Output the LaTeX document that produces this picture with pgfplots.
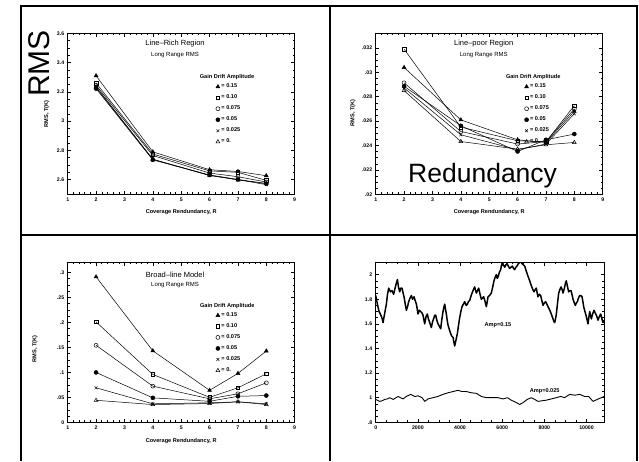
\documentclass[border=0pt]{standalone}
\usepackage{fontspec}
\setmainfont{Liberation Sans}
\usepackage{pgfplots}
\pgfplotsset{compat=1.18}

\newcommand{\tickfont}{\fontsize{5.2}{5.2}\selectfont\bfseries}
\newcommand{\labfont}{\fontsize{5.6}{6}\selectfont\bfseries}

\pgfplotsset{
  panel/.style={
    scale only axis,
    axis line style={line width=0.8pt},
    tick align=inside,
    major tick length=3.5pt,
    minor tick length=2pt,
    every tick/.style={black, line width=0.5pt},
    scaled ticks=false,
    /pgf/number format/assume math mode=true,
    /pgf/number format/1000 sep={},
    tick label style={font=\tickfont},
  },
  rpanel/.style={
    panel,
    width=227pt,
    xmin=1, xmax=9,
    xtick={1,...,9},
    minor x tick num=4,
    minor y tick num=3,
    xlabel={Coverage Rendundancy, R},
    ylabel={RMS, T(K)},
    every axis x label/.style={at={(rel axis cs:0.5,-0.108)}, anchor=center, font=\labfont},
    legend image code/.code={\draw[mark repeat=2,mark phase=2,#1,only marks] plot coordinates {(0pt,0pt) (2pt,0pt) (4pt,0pt)};},
    legend style={draw=none, fill=none, anchor=north west, font=\labfont,
      row sep=4.4pt, inner sep=0pt, nodes={inner sep=0.6pt}},
    legend cell align=left,
  },
  g15/.style={black, line width=0.5pt, mark=triangle*, mark size=2.2pt, mark options={solid, fill=black}},
  g10/.style={black, line width=0.5pt, mark=square, mark size=1.8pt, mark options={solid, fill=white}},
  g075/.style={black, line width=0.5pt, mark=o, mark size=2pt, mark options={solid, fill=white}},
  g05/.style={black, line width=0.5pt, mark=*, mark size=2pt, mark options={solid, fill=black}},
  g025/.style={black, line width=0.5pt, mark=x, mark size=2pt, mark options={solid}},
  g0/.style={black, line width=0.5pt, mark=triangle, mark size=2.2pt, mark options={solid, fill=white}},
}

\begin{document}
\begin{tikzpicture}
\path[use as bounding box] (0pt,0pt) rectangle (639pt,461pt);

% panel frame
\draw[line width=1.2pt] (21pt,0pt) -- (21pt,455pt) -- (637pt,455pt) -- (637pt,0pt);
\draw[line width=1.2pt] (330pt,0pt) -- (330pt,455pt);
\draw[line width=1.2pt] (21pt,226pt) -- (637pt,226pt);

% ---------------- Line-rich region ----------------
\begin{axis}[rpanel, at={(67.7pt,266.7pt)}, anchor=south west, height=161pt,
  ymin=2.5, ymax=3.6,
  ytick={2.6,2.8,3,3.2,3.4,3.6}, yticklabels={2.6,2.8,3,3.2,3.4,3.6},
  every axis y label/.style={at={(rel axis cs:-0.0925,0.50)}, rotate=90, anchor=center, font=\labfont},
  legend style={at={(rel axis cs:0.652,0.69)}},
]
\addplot[g15] coordinates {(2,3.31) (4,2.79) (6,2.668) (7,2.656) (8,2.627)};
\addplot[g10] coordinates {(2,3.26) (4,2.775) (6,2.660) (7,2.650) (8,2.595)};
\addplot[g075] coordinates {(2,3.245) (4,2.765) (6,2.645) (7,2.620) (8,2.584)};
\addplot[g05] coordinates {(2,3.222) (4,2.735) (6,2.632) (7,2.602) (8,2.572)};
\addplot[g025] coordinates {(2,3.230) (4,2.738) (6,2.628) (7,2.600) (8,2.566)};
\addplot[g0] coordinates {(2,3.235) (4,2.740) (6,2.630) (7,2.598) (8,2.575)};
\legend{\,= 0.15, \,= 0.10, \,= 0.075, \,= 0.05, \,= 0.025, \,= 0.}
\node[font=\fontsize{7.5}{8}\selectfont] at (rel axis cs:0.473,0.938) {Line--Rich Region};
\node[font=\fontsize{6}{7}\selectfont] at (rel axis cs:0.473,0.865) {Long Range RMS};
\node[font=\labfont] at (rel axis cs:0.702,0.730) {Gain Drift Amplitude};
\end{axis}

% ---------------- Line-poor region ----------------
\begin{axis}[rpanel, at={(375.7pt,266.7pt)}, anchor=south west, height=161pt,
  ymin=0.02, ymax=0.0332,
  ytick={0.02,0.022,0.024,0.026,0.028,0.03,0.032},
  yticklabels={.02,.022,.024,.026,.028,.03,.032},
  every axis y label/.style={at={(rel axis cs:-0.1,0.505)}, rotate=90, anchor=center, font=\labfont},
  legend style={at={(rel axis cs:0.655,0.69)}},
]
\addplot[g15] coordinates {(2,0.0304) (4,0.0261) (6,0.02447) (7,0.02425) (8,0.0268)};
\addplot[g10] coordinates {(2,0.0319) (4,0.02551) (6,0.02439) (7,0.0243) (8,0.02727)};
\addplot[g075] coordinates {(2,0.02914) (4,0.02515) (6,0.02412) (7,0.02433) (8,0.0270)};
\addplot[g05] coordinates {(2,0.02886) (4,0.02562) (6,0.02351) (7,0.02447) (8,0.02494)};
\addplot[g025] coordinates {(2,0.02872) (4,0.02488) (6,0.02365) (7,0.02412) (8,0.0266)};
\addplot[g0] coordinates {(2,0.0285) (4,0.02433) (6,0.0237) (7,0.02406) (8,0.02425)};
\legend{\,= 0.15, \,= 0.10, \,= 0.075, \,= 0.05, \,= 0.025, \,= 0.}
\node[font=\fontsize{7.5}{8}\selectfont] at (rel axis cs:0.476,0.938) {Line--poor Region};
\node[font=\fontsize{6}{7}\selectfont] at (rel axis cs:0.476,0.865) {Long Range RMS};
\node[font=\labfont] at (rel axis cs:0.694,0.726) {Gain Drift Amplitude};
\end{axis}

% ---------------- Broad-line model ----------------
\begin{axis}[rpanel, at={(67.7pt,38.7pt)}, anchor=south west, height=160pt,
  ymin=0, ymax=0.32,
  ytick={0,0.05,0.1,0.15,0.2,0.25,0.3},
  yticklabels={0,.05,.1,.15,.2,.25,.3},
  every axis x label/.style={at={(rel axis cs:0.5,-0.117)}, anchor=center, font=\labfont},
  every axis y label/.style={at={(rel axis cs:-0.144,0.46)}, rotate=90, anchor=center, font=\labfont},
  legend style={at={(rel axis cs:0.652,0.69)}},
]
\addplot[g15] coordinates {(2,0.291) (4,0.143) (6,0.064) (7,0.0977) (8,0.1426)};
\addplot[g10] coordinates {(2,0.2008) (4,0.0957) (6,0.050) (7,0.069) (8,0.097)};
\addplot[g075] coordinates {(2,0.154) (4,0.0723) (6,0.047) (7,0.057) (8,0.079)};
\addplot[g05] coordinates {(2,0.0997) (4,0.0489) (6,0.042) (7,0.052) (8,0.0535)};
\addplot[g025] coordinates {(2,0.069) (4,0.037) (6,0.039) (7,0.041) (8,0.037)};
\addplot[g0] coordinates {(2,0.044) (4,0.0355) (6,0.0375) (7,0.041) (8,0.0355)};
\legend{\,= 0.15, \,= 0.10, \,= 0.075, \,= 0.05, \,= 0.025, \,= 0.}
\node[font=\fontsize{7.5}{8}\selectfont] at (rel axis cs:0.473,0.922) {Broad--line Model};
\node[font=\fontsize{6}{7}\selectfont] at (rel axis cs:0.473,0.86) {Long Range RMS};
\node[font=\labfont] at (rel axis cs:0.703,0.729) {Gain Drift Amplitude};
\end{axis}

% ---------------- gain drift time series ----------------
\begin{axis}[panel, at={(375.7pt,38.7pt)}, anchor=south west, width=228.3pt, height=160pt,
  xmin=0, xmax=10830, ymin=0.8, ymax=2.1,
  xtick={0,2000,4000,6000,8000,10000},
  xticklabels={0,2000,4000,6000,8000,10000},
  minor x tick num=3,
  ytick={0.8,1,1.2,1.4,1.6,1.8,2},
  yticklabels={.8,1,1.2,1.4,1.6,1.8,2},
  minor y tick num=3,
]
\addplot[black, line width=1.5pt, line join=round] coordinates {
(0,1.83) (80,1.76) (158,1.70) (220,1.68) (269,1.66) (310,1.64) (348,1.61) (420,1.68)
(506,1.76) (560,1.84) (617,1.89) (700,1.86) (775,1.87) (850,1.84) (933,1.90) (980,1.93)
(1028,1.96) (1080,1.90) (1138,1.86) (1190,1.89) (1249,1.89) (1300,1.85) (1344,1.82)
(1400,1.76) (1455,1.71) (1510,1.74) (1565,1.78) (1630,1.81) (1692,1.83) (1750,1.80)
(1818,1.82) (1870,1.79) (1929,1.76) (1970,1.72) (2008,1.68) (2070,1.71) (2134,1.70)
(2190,1.69) (2245,1.67) (2290,1.63) (2324,1.60) (2390,1.66) (2451,1.68) (2500,1.64)
(2561,1.61) (2600,1.59) (2640,1.57) (2700,1.62) (2767,1.65) (2800,1.67) (2846,1.67)
(2900,1.63) (2956,1.60) (3020,1.58) (3083,1.56) (3140,1.64) (3194,1.70) (3240,1.74)
(3273,1.76) (3310,1.72) (3352,1.68) (3390,1.63) (3431,1.59) (3500,1.55) (3557,1.52)
(3610,1.50) (3668,1.49) (3710,1.45) (3747,1.42) (3810,1.47) (3873,1.52) (3930,1.59)
(3984,1.65) (4040,1.70) (4095,1.74) (4160,1.76) (4221,1.78) (4290,1.75) (4348,1.76)
(4400,1.78) (4458,1.79) (4510,1.82) (4569,1.85) (4640,1.88) (4696,1.90) (4740,1.87)
(4775,1.85) (4830,1.87) (4885,1.89) (4950,1.84) (5012,1.80) (5070,1.81) (5122,1.82)
(5190,1.78) (5249,1.74) (5290,1.78) (5328,1.82) (5400,1.83) (5486,1.85) (5550,1.90)
(5613,1.95) (5670,1.98) (5723,2.00) (5760,1.97) (5802,1.98) (5870,2.02) (5929,2.04)
(5970,2.08) (6008,2.10) (6060,2.08) (6118,2.06) (6180,2.08) (6229,2.09) (6290,2.07)
(6356,2.05) (6420,2.06) (6482,2.07) (6540,2.05) (6593,2.04) (6650,2.06) (6703,2.07)
(6770,2.09) (6830,2.10) (6890,2.10) (6941,2.09) (7000,2.08) (7067,2.07) (7120,2.04)
(7178,2.01) (7240,1.98) (7304,1.95) (7340,1.93) (7383,1.91) (7450,1.88) (7510,1.86)
(7570,1.88) (7620,1.89) (7660,1.85) (7699,1.82) (7760,1.84) (7826,1.83) (7880,1.79)
(7937,1.75) (8000,1.77) (8063,1.78) (8120,1.76) (8174,1.74) (8230,1.72) (8284,1.70)
(8350,1.67) (8411,1.64) (8450,1.62) (8490,1.61) (8530,1.64) (8569,1.68) (8620,1.76)
(8680,1.85) (8740,1.88) (8790,1.90) (8840,1.88) (8885,1.85) (8920,1.87) (8964,1.90)
(9000,1.93) (9043,1.95) (9100,1.90) (9155,1.86) (9210,1.87) (9266,1.87) (9310,1.84)
(9360,1.80) (9420,1.77) (9470,1.75) (9520,1.77) (9565,1.78) (9620,1.81) (9676,1.83)
(9730,1.83) (9786,1.82) (9830,1.78) (9865,1.74) (9910,1.71) (9960,1.68) (10020,1.64)
(10071,1.60) (10110,1.65) (10150,1.70) (10190,1.67) (10229,1.64) (10290,1.68)
(10355,1.71) (10410,1.69) (10466,1.67) (10510,1.65) (10545,1.63) (10610,1.66)
(10672,1.68) (10730,1.64) (10782,1.61) (10830,1.63)
};
\addplot[black, line width=0.9pt, line join=round] coordinates {
(0,0.986) (190,0.97) (300,0.975) (435,0.986) (550,0.99) (660,1.00) (830,0.986)
(1060,1.01) (1300,0.99) (1450,1.01) (1660,1.027) (1850,1.01) (2010,1.015) (2200,1.00)
(2330,0.97) (2480,0.99) (2720,1.00) (2950,1.01) (3190,1.027) (3430,1.04) (3670,1.05)
(3900,1.06) (4090,1.05) (4300,1.05) (4540,1.04) (4780,1.035) (5010,1.01) (5250,1.00)
(5490,1.00) (5800,1.00) (6040,0.99) (6250,1.00) (6430,0.98) (6670,0.96) (6830,0.945)
(6990,0.96) (7190,0.986) (7380,1.00) (7540,0.986) (7700,0.97) (7890,0.975) (8100,0.98)
(8330,0.99) (8570,1.00) (8780,1.01) (8960,1.00) (9200,1.027) (9440,1.02) (9680,1.027)
(9910,1.01) (10100,1.01) (10310,0.97) (10510,0.986) (10700,1.00) (10830,1.01)
};
\node[font=\labfont] at (axis cs:5800,1.593) {Amp=0.15};
\node[font=\labfont] at (axis cs:8017,1.052) {Amp=0.025};
\end{axis}

% overlaid captions
\node[font=\fontsize{30}{30}\selectfont, rotate=90, inner sep=0pt] at (39pt,397.5pt) {RMS};
\node[font=\fontsize{26.5}{27}\selectfont, anchor=base west, inner sep=0pt] at (408pt,278.3pt) {Redundancy};
\end{tikzpicture}
\end{document}
